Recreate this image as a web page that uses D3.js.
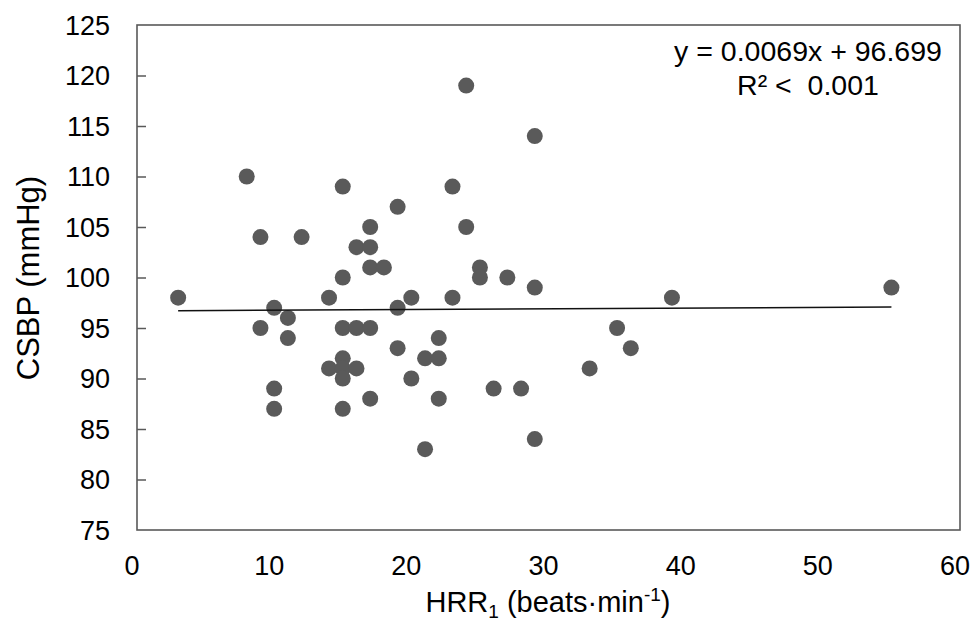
<!DOCTYPE html>
<html>
<head>
<meta charset="utf-8">
<script src="https://cdn.jsdelivr.net/npm/d3@7"></script>
<style>
  html, body { margin: 0; padding: 0; background: #fff; }
  svg text { font-family: "Liberation Sans", Arial, sans-serif; fill: #000; }
</style>
</head>
<body>
<svg id="chart" width="973" height="624"></svg>
<script>
// ---- data ----
const hrr1 = [3, 8, 9, 9, 10, 10, 10, 11, 11, 12,
              14, 14, 15, 15, 15, 15, 15, 15, 15, 16,
              16, 16, 17, 17, 17, 17, 17, 18, 19, 19,
              19, 20, 20, 21, 21, 22, 22, 22, 23, 23,
              24, 24, 25, 25, 26, 27, 28, 29, 29, 29,
              33, 35, 36, 39, 55];
const csbp = [98, 110, 104, 95, 97, 89, 87, 96, 94, 104,
              98, 91, 109, 100, 95, 92, 91, 90, 87, 103,
              95, 91, 105, 103, 101, 95, 88, 101, 107, 97,
              93, 98, 90, 92, 83, 94, 92, 88, 109, 98,
              119, 105, 101, 100, 89, 100, 89, 114, 99, 84,
              91, 95, 93, 98, 99];
const trendSlope = 0.0069;
const trendIntercept = 96.699;
const xTickValues = [0, 10, 20, 30, 40, 50, 60];
const yTickValues = [75, 80, 85, 90, 95, 100, 105, 110, 115, 120, 125];
const equationText = "y = 0.0069x + 96.699";
const r2Text = "R\u00B2 <\u00A0 0.001";

// ---- layout ----
const svg = d3.select("#chart");
const plot = { left: 137, top: 25, right: 960, bottom: 530 };

const x = d3.scaleLinear().domain([0, 60]).range([plot.left, plot.right]);
const y = d3.scaleLinear().domain([75, 125]).range([plot.bottom, plot.top]);

const points = hrr1.map((v, i) => ({ x: v, y: csbp[i] }));

// y axis: inner ticks on the left border
const yAxis = d3.axisRight(y).tickValues(yTickValues.filter(v => v > 75 && v < 125))
  .tickSize(9).tickFormat("");
const yG = svg.append("g").attr("transform", `translate(${plot.left},0)`).call(yAxis);
yG.select(".domain").remove();
yG.selectAll(".tick line").attr("stroke", "#595959").attr("stroke-width", 1.5);

// y tick labels
svg.append("g").selectAll("text").data(yTickValues).join("text")
  .attr("x", 110).attr("y", d => y(d)).attr("dy", "0.36em")
  .attr("text-anchor", "end").attr("font-size", 27)
  .text(d => d);

// x tick labels
svg.append("g").selectAll("text").data(xTickValues).join("text")
  .attr("x", d => x(d) - 5).attr("y", 575)
  .attr("text-anchor", "middle").attr("font-size", 27)
  .text(d => d);

// frame
svg.append("rect")
  .attr("x", plot.left).attr("y", plot.top)
  .attr("width", plot.right - plot.left).attr("height", plot.bottom - plot.top)
  .attr("fill", "none").attr("stroke", "#595959").attr("stroke-width", 1.6);

// points
svg.append("g").selectAll("circle").data(points).join("circle")
  .attr("cx", d => x(d.x)).attr("cy", d => y(d.y)).attr("r", 8)
  .attr("fill", "#5a5a5a");

// trend line
const xMin = d3.min(hrr1), xMax = d3.max(hrr1);
const line = d3.line().x(d => x(d)).y(d => y(trendSlope * d + trendIntercept));
svg.append("path").datum([xMin, xMax]).attr("d", line)
  .attr("fill", "none").attr("stroke", "#111").attr("stroke-width", 1.5);

// equation
svg.append("text").attr("x", 808).attr("y", 61).attr("text-anchor", "middle")
  .attr("font-size", 28.5).text(equationText);
svg.append("text").attr("x", 808).attr("y", 95).attr("text-anchor", "middle")
  .attr("font-size", 28.5).text(r2Text);

// axis titles
const xt = svg.append("text").attr("x", 548).attr("y", 612).attr("text-anchor", "middle")
  .attr("font-size", 29);
xt.append("tspan").text("HRR");
xt.append("tspan").attr("font-size", 19).attr("dy", 6).text("1");
xt.append("tspan").attr("dy", -6).text(" (beats·min");
xt.append("tspan").attr("font-size", 19).attr("dy", -11).text("-1");
xt.append("tspan").attr("dy", 11).text(")");

svg.append("text")
  .attr("transform", "translate(39,278) rotate(-90)")
  .attr("text-anchor", "middle").attr("font-size", 31)
  .text("CSBP (mmHg)");
</script>
</body>
</html>
